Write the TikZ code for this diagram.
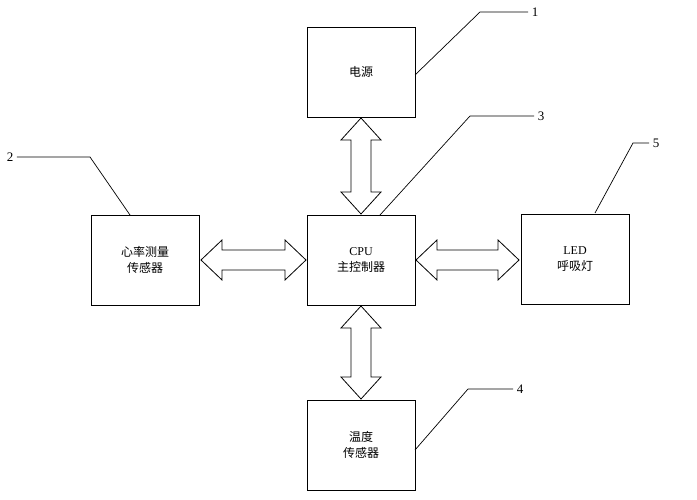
\documentclass[tikz,border=0pt]{standalone}
\usepackage{fontspec}
\setmainfont{Liberation Serif}
\newfontfamily\cjk{Noto Sans CJK SC}
\begin{document}
\begin{tikzpicture}[x=1pt,y=-1pt,
  box/.style={draw,line width=0.8pt,minimum width=108pt,minimum height=90pt,align=center,font=\fontsize{12}{16}\selectfont},
  lead/.style={line width=0.7pt},
  num/.style={font=\fontsize{13}{15}\selectfont},
  blk/.style={draw,line width=0.8pt,fill=white}]
\useasboundingbox (0,0) rectangle (697,500);
\node[box] (pw) at (361,72) {\cjk 电源};
\node[box] (cpu) at (361,260) {CPU\\{\cjk 主控制器}};
\node[box] (hr) at (145,260) {\cjk 心率测量\\\cjk 传感器};
\node[box] (led) at (575,259) {LED\\{\cjk 呼吸灯}};
\node[box] (tmp) at (361,445) {\cjk 温度\\\cjk 传感器};
% block arrows
\draw[blk] (361,118) -- (381,140) -- (371,140) -- (371,192) -- (381,192) -- (361,214) -- (341,192) -- (351,192) -- (351,140) -- (341,140) -- cycle;
\draw[blk] (361,306) -- (381,328) -- (371,328) -- (371,377) -- (381,377) -- (361,399) -- (341,377) -- (351,377) -- (351,328) -- (341,328) -- cycle;
\draw[blk] (201,260) -- (222,240) -- (222,250) -- (285,250) -- (285,240) -- (306,260) -- (285,280) -- (285,270) -- (222,270) -- (222,280) -- cycle;
\draw[blk] (416,260) -- (437,240) -- (437,250) -- (498,250) -- (498,240) -- (519,260) -- (498,280) -- (498,270) -- (437,270) -- (437,280) -- cycle;
% leaders
\node[num] (n1) at (535,12) {1};
\node[num] (n2) at (10,157) {2};
\node[num] (n3) at (541,116) {3};
\node[num] (n5) at (656,143) {5};
\node[num] (n4) at (520,389) {4};
\coordinate (c1) at (415,75); \coordinate (c2) at (130,215);
\coordinate (c3) at (380,215); \coordinate (c5) at (595,213);
\coordinate (c4) at (415,450);
\draw[lead] (c1) -- (480,12) -- (n1.west);
\draw[lead] (c2) -- (90,157) -- (n2.east);
\draw[lead] (c3) -- (470,116) -- (n3.west);
\draw[lead] (c5) -- (633,143) -- (n5.west);
\draw[lead] (c4) -- (468,389) -- (n4.west);
\end{tikzpicture}
\end{document}
